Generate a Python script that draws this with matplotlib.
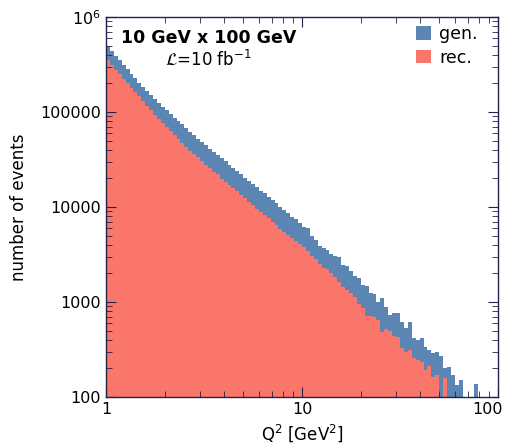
import numpy as np
import matplotlib
matplotlib.use("Agg")
import matplotlib.pyplot as plt
import matplotlib.transforms as mtransforms
from matplotlib.ticker import LogLocator, NullFormatter, FixedLocator

# 100 log bins from Q2 = 1 to 100 GeV^2
q2_edges = np.logspace(0, 2, 101)

gen_counts = [
    495000, 439000, 393000, 353000, 316000, 284000, 254000, 228000, 204000, 183000,
    166000, 151000, 137000, 124000, 113000, 104000, 95300, 87500, 80400, 73900,
    67800, 62300, 57300, 52600, 48300, 44400, 40800, 37900, 35300, 32800,
    30500, 28000, 25700, 23900, 22300, 20400, 19000, 17500, 16200, 14900,
    13900, 12700, 11800, 10900, 10100, 9300, 8650, 7940, 7390, 6790,
    6200, 5970, 4990, 4500, 3910, 3730, 3530, 3180, 3070, 3000,
    2450, 2410, 2120, 1890, 1800, 1510, 1490, 1240, 1210, 1010,
    1090, 886, 730, 766, 772, 620, 532, 620, 418, 398,
    418, 336, 312, 292, 300, 270, 202, 207, 170, 134,
    151, 0, 0, 0, 137, 0, 0, 0, 0, 0,
]

rec_counts = [
    353000, 312000, 280000, 251000, 225000, 202000, 181000, 162000, 146000, 131000,
    117000, 105000, 94100, 84400, 76600, 69500, 63100, 57300, 52000, 47200,
    42800, 39300, 36100, 33200, 30500, 28000, 25700, 23600, 22000, 19950,
    18300, 17000, 15800, 14700, 13500, 12400, 11400, 10500, 9640, 8860,
    8240, 7570, 6950, 6390, 5870, 5460, 5070, 4720, 4390, 4080,
    3790, 3440, 3070, 2840, 2490, 2260, 2230, 2010, 1850, 1640,
    1440, 1340, 1240, 1130, 952, 865, 712, 712, 695, 646,
    487, 516, 499, 439, 428, 328, 298, 312, 257, 245,
    234, 192, 212, 162, 170, 0, 158, 0, 0, 0,
    0, 0, 0, 0, 0, 0, 0, 0, 0, 0,
]

y_ticks = [100, 1000, 10000, 100000, 1000000]
y_tick_labels = ["100", "1000", "10000", "100000", "10$^6$"]
x_ticks = [1, 10, 100]
x_tick_labels = ["1", "10", "100"]

frame_col = "#22224a"
blue = "#5b86b4"
red = "#fb766a"

plt.rcParams['font.family'] = ['DejaVu Sans']
plt.rcParams['mathtext.fontset'] = 'dejavusans'

fig = plt.figure(figsize=(5.05, 4.48), dpi=100)
ax = fig.add_axes([106 / 505, 1 - 397 / 448, 392 / 505, 380 / 448])

centers = np.sqrt(q2_edges[:-1] * q2_edges[1:])
ax.hist(centers, bins=q2_edges, weights=gen_counts, histtype='stepfilled',
        color=blue, linewidth=0, log=True, label='gen.')
ax.hist(centers, bins=q2_edges, weights=rec_counts, histtype='stepfilled',
        color=red, linewidth=0, log=True, label='rec.')

ax.set_xscale('log')
ax.set_xlim(1, 100)
ax.set_ylim(100, 1e6)

ax.yaxis.set_major_locator(FixedLocator(y_ticks))
ax.set_yticklabels(y_tick_labels)
ax.yaxis.set_minor_locator(LogLocator(base=10, subs=np.arange(2, 10)))
ax.yaxis.set_minor_formatter(NullFormatter())
ax.xaxis.set_major_locator(FixedLocator(x_ticks))
ax.set_xticklabels(x_tick_labels)
ax.xaxis.set_minor_locator(LogLocator(base=10, subs=np.arange(2, 10)))
ax.xaxis.set_minor_formatter(NullFormatter())

ax.tick_params(which='both', direction='in', top=True, right=True,
               color=frame_col, labelsize=11.5, labelcolor='black')
ax.tick_params(which='major', length=7, width=0.8)
ax.tick_params(which='minor', length=4, width=0.6)
for sp in ax.spines.values():
    sp.set_color(frame_col)
    sp.set_linewidth(1.0)

ax.set_xlabel('Q$^2$ [GeV$^2$]', fontsize=12, labelpad=4)
ax.set_ylabel('number of events', fontsize=12, labelpad=9)

ax.text(0.037, 0.945, '10 GeV x 100 GeV', transform=ax.transAxes,
        fontsize=12.5, fontweight='bold', va='center', ha='left')
ax.text(0.15, 0.89, r'$\mathcal{L}$=10 fb$^{\mathregular{-1}}$', transform=ax.transAxes,
        fontsize=12, va='center', ha='left')

ax.legend(loc='upper left', bbox_to_anchor=(0.792, 0.978), frameon=False,
          fontsize=12.5, handlelength=0.85, handleheight=0.85, handletextpad=0.45,
          labelspacing=0.3, borderaxespad=0, borderpad=0)

# keep the "100" tick label inside the figure like the original
shift = mtransforms.ScaledTranslation(-10 / 100, 0, fig.dpi_scale_trans)
for t in ax.xaxis.get_major_ticks():
    if abs(t.get_loc() - 100) < 1e-6:
        t.label1.set_transform(t.label1.get_transform() + shift)

fig.savefig('out.png', dpi=100)
